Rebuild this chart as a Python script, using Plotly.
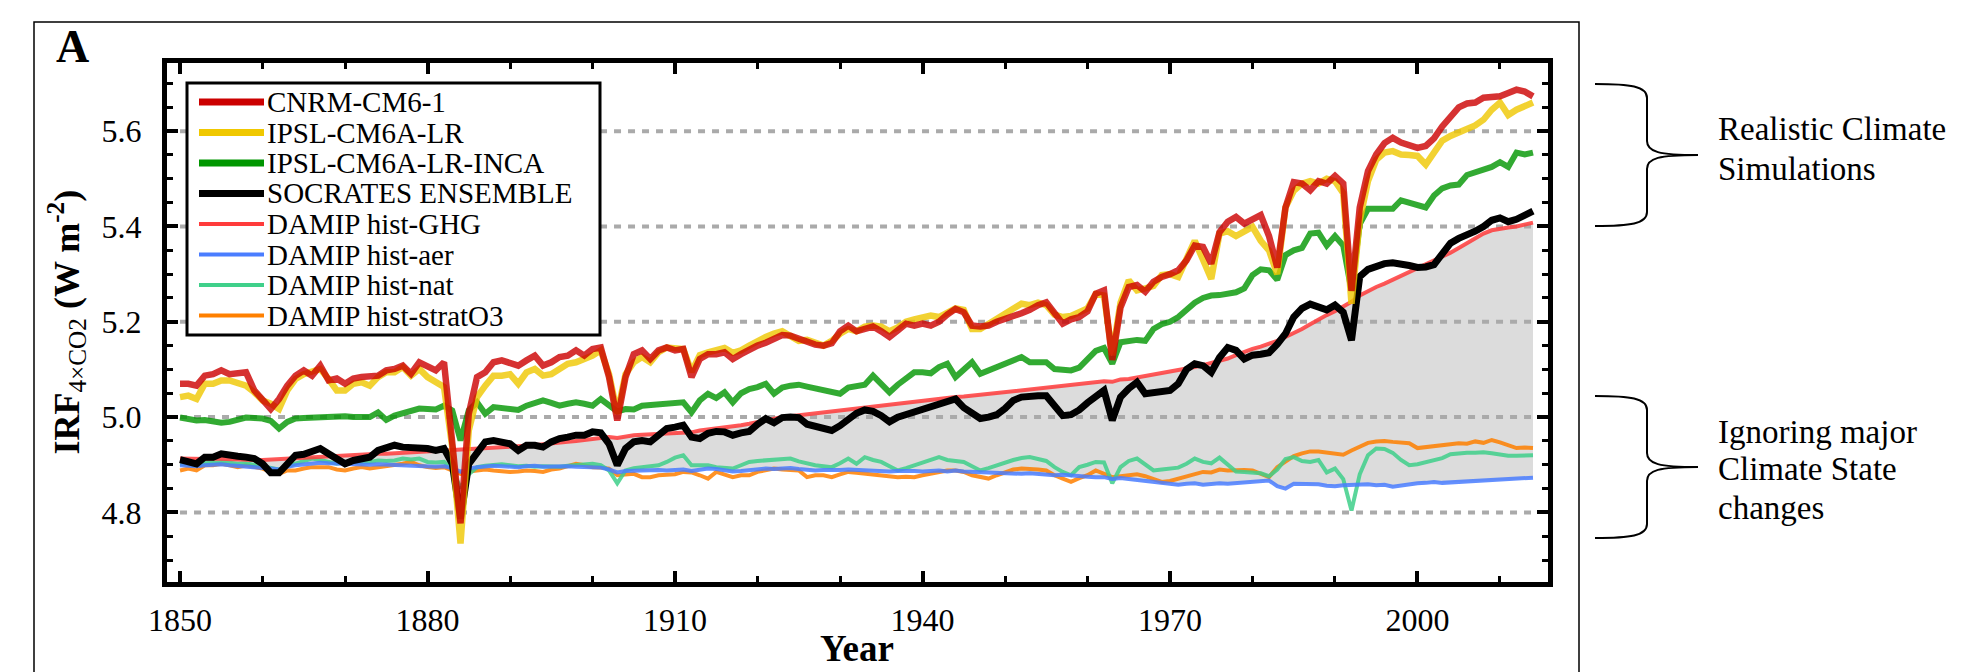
import plotly.graph_objects as go

# ---------------- data ----------------
YEARS = list(range(1850, 2015))

CNRM = [5.070, 5.070, 5.066, 5.087, 5.090, 5.098, 5.090, 5.092, 5.094, 5.056,
        5.035, 5.017, 5.038, 5.066, 5.087, 5.098, 5.087, 5.108, 5.077, 5.081,
        5.070, 5.081, 5.084, 5.084, 5.087, 5.098, 5.101, 5.108, 5.091, 5.115,
        5.108, 5.098, 5.115, 4.950, 4.777, 5.007, 5.084, 5.094, 5.115, 5.119,
        5.112, 5.108, 5.119, 5.129, 5.108, 5.115, 5.126, 5.129, 5.140, 5.129,
        5.143, 5.146, 5.084, 4.993, 5.084, 5.132, 5.140, 5.122, 5.140, 5.146,
        5.140, 5.143, 5.084, 5.122, 5.132, 5.132, 5.136, 5.122, 5.132, 5.143,
        5.150, 5.156, 5.165, 5.172, 5.171, 5.164, 5.160, 5.152, 5.150, 5.155,
        5.180, 5.192, 5.180, 5.185, 5.190, 5.180, 5.168, 5.182, 5.196, 5.192,
        5.196, 5.192, 5.200, 5.215, 5.227, 5.220, 5.192, 5.190, 5.192, 5.200,
        5.205, 5.210, 5.218, 5.225, 5.235, 5.241, 5.220, 5.196, 5.205, 5.210,
        5.222, 5.259, 5.266, 5.120, 5.230, 5.273, 5.277, 5.263, 5.284, 5.294,
        5.300, 5.308, 5.329, 5.360, 5.357, 5.322, 5.388, 5.410, 5.420, 5.406,
        5.415, 5.424, 5.380, 5.314, 5.440, 5.493, 5.490, 5.476, 5.495, 5.490,
        5.506, 5.490, 5.265, 5.440, 5.516, 5.551, 5.575, 5.586, 5.576, 5.570,
        5.565, 5.569, 5.585, 5.610, 5.628, 5.650, 5.658, 5.660, 5.670, 5.673,
        5.673, 5.680, 5.687, 5.683, 5.673]

IPSL = [5.042, 5.045, 5.038, 5.070, 5.070, 5.077, 5.077, 5.070, 5.066, 5.052,
        5.035, 5.028, 5.017, 5.056, 5.080, 5.090, 5.094, 5.101, 5.080, 5.056,
        5.056, 5.070, 5.073, 5.066, 5.084, 5.094, 5.094, 5.105, 5.087, 5.101,
        5.084, 5.073, 5.063, 4.937, 4.735, 4.972, 5.042, 5.066, 5.087, 5.087,
        5.090, 5.070, 5.094, 5.101, 5.087, 5.090, 5.101, 5.112, 5.115, 5.122,
        5.129, 5.140, 5.090, 5.007, 5.090, 5.115, 5.126, 5.115, 5.136, 5.146,
        5.146, 5.143, 5.095, 5.130, 5.136, 5.140, 5.145, 5.135, 5.140, 5.150,
        5.160, 5.168, 5.175, 5.180, 5.170, 5.160, 5.162, 5.155, 5.150, 5.160,
        5.175, 5.185, 5.180, 5.190, 5.192, 5.190, 5.180, 5.188, 5.200, 5.205,
        5.210, 5.213, 5.210, 5.220, 5.228, 5.225, 5.185, 5.185, 5.195, 5.205,
        5.215, 5.228, 5.238, 5.235, 5.240, 5.235, 5.215, 5.210, 5.212, 5.220,
        5.228, 5.258, 5.255, 5.130, 5.240, 5.287, 5.266, 5.270, 5.275, 5.298,
        5.300, 5.294, 5.330, 5.370, 5.330, 5.290, 5.385, 5.390, 5.380, 5.390,
        5.399, 5.370, 5.350, 5.300, 5.440, 5.475, 5.490, 5.495, 5.490, 5.500,
        5.495, 5.470, 5.238, 5.413, 5.495, 5.540, 5.555, 5.558, 5.551, 5.550,
        5.548, 5.530, 5.555, 5.580, 5.590, 5.598, 5.605, 5.612, 5.624, 5.645,
        5.660, 5.634, 5.645, 5.652, 5.660]

INCA = [4.999, 4.996, 4.993, 4.994, 4.992, 4.988, 4.990, 4.996, 4.999, 4.998,
        4.997, 4.992, 4.976, 4.990, 4.997, 4.998, 4.999, 5.000, 4.999, 5.000,
        5.002, 5.000, 4.999, 5.000, 5.010, 4.994, 5.003, 5.008, 5.014, 5.018,
        5.017, 5.016, 5.024, 5.014, 4.951, 5.014, 5.031, 5.007, 5.021, 5.020,
        5.017, 5.015, 5.024, 5.028, 5.035, 5.030, 5.024, 5.028, 5.031, 5.028,
        5.024, 5.038, 5.024, 5.012, 5.017, 5.016, 5.024, 5.026, 5.028, 5.030,
        5.031, 5.031, 5.010, 5.035, 5.049, 5.040, 5.052, 5.031, 5.050, 5.059,
        5.063, 5.070, 5.049, 5.062, 5.066, 5.068, 5.064, 5.060, 5.056, 5.054,
        5.049, 5.062, 5.066, 5.068, 5.087, 5.070, 5.052, 5.068, 5.080, 5.094,
        5.094, 5.092, 5.105, 5.112, 5.084, 5.100, 5.115, 5.091, 5.098, 5.104,
        5.112, 5.120, 5.126, 5.115, 5.116, 5.115, 5.101, 5.099, 5.098, 5.104,
        5.120, 5.139, 5.145, 5.112, 5.157, 5.160, 5.162, 5.160, 5.185, 5.195,
        5.200, 5.210, 5.225, 5.240, 5.250, 5.255, 5.256, 5.259, 5.262, 5.270,
        5.298, 5.310, 5.308, 5.288, 5.340, 5.350, 5.355, 5.385, 5.387, 5.360,
        5.380, 5.360, 5.265, 5.405, 5.437, 5.437, 5.437, 5.437, 5.455, 5.450,
        5.444, 5.440, 5.465, 5.480, 5.486, 5.488, 5.508, 5.514, 5.518, 5.525,
        5.535, 5.525, 5.555, 5.551, 5.555]

SOCRATES = [4.911, 4.906, 4.902, 4.916, 4.916, 4.923, 4.922, 4.918, 4.916, 4.913,
            4.902, 4.883, 4.883, 4.902, 4.920, 4.922, 4.930, 4.934, 4.923, 4.913,
            4.902, 4.909, 4.913, 4.916, 4.930, 4.934, 4.941, 4.937, 4.936, 4.937,
            4.934, 4.930, 4.934, 4.902, 4.787, 4.902, 4.927, 4.948, 4.951, 4.948,
            4.944, 4.930, 4.941, 4.941, 4.937, 4.948, 4.955, 4.958, 4.962, 4.962,
            4.969, 4.967, 4.944, 4.899, 4.934, 4.948, 4.951, 4.948, 4.962, 4.976,
            4.979, 4.983, 4.958, 4.955, 4.966, 4.970, 4.969, 4.962, 4.967, 4.970,
            4.985, 4.997, 4.988, 4.999, 5.000, 4.999, 4.985, 4.980, 4.976, 4.972,
            4.982, 4.995, 5.008, 5.015, 5.012, 5.003, 4.990, 5.000, 5.005, 5.010,
            5.015, 5.021, 5.025, 5.030, 5.038, 5.020, 5.008, 4.997, 5.000, 5.005,
            5.018, 5.035, 5.042, 5.045, 5.045, 5.045, 5.024, 5.003, 5.005, 5.015,
            5.030, 5.045, 5.056, 4.993, 5.042, 5.060, 5.073, 5.049, 5.052, 5.055,
            5.056, 5.070, 5.100, 5.112, 5.108, 5.094, 5.125, 5.146, 5.140, 5.122,
            5.130, 5.132, 5.135, 5.153, 5.175, 5.210, 5.228, 5.237, 5.232, 5.225,
            5.235, 5.220, 5.161, 5.295, 5.310, 5.317, 5.322, 5.324, 5.322, 5.318,
            5.314, 5.315, 5.320, 5.345, 5.365, 5.375, 5.382, 5.390, 5.400, 5.413,
            5.418, 5.410, 5.415, 5.425, 5.432]

HIST_GHG = [4.913, 4.912, 4.911, 4.912, 4.913, 4.912, 4.911, 4.911, 4.910, 4.910,
            4.910, 4.911, 4.912, 4.913, 4.914, 4.915, 4.917, 4.918, 4.918, 4.919,
            4.920, 4.921, 4.921, 4.922, 4.923, 4.923, 4.924, 4.924, 4.925, 4.925,
            4.926, 4.927, 4.928, 4.929, 4.930, 4.931, 4.932, 4.934, 4.935, 4.936,
            4.937, 4.938, 4.940, 4.941, 4.943, 4.944, 4.946, 4.948, 4.950, 4.952,
            4.955, 4.957, 4.958, 4.956, 4.960, 4.962, 4.963, 4.964, 4.966, 4.967,
            4.968, 4.969, 4.968, 4.972, 4.974, 4.975, 4.978, 4.980, 4.983, 4.986,
            4.990, 4.993, 4.996, 5.000, 5.002, 5.004, 5.006, 5.008, 5.010, 5.012,
            5.014, 5.016, 5.019, 5.022, 5.024, 5.026, 5.027, 5.028, 5.030, 5.032,
            5.034, 5.036, 5.038, 5.040, 5.042, 5.043, 5.045, 5.047, 5.049, 5.051,
            5.053, 5.055, 5.057, 5.059, 5.061, 5.063, 5.065, 5.066, 5.067, 5.069,
            5.071, 5.073, 5.075, 5.074, 5.079, 5.080, 5.083, 5.086, 5.088, 5.091,
            5.094, 5.097, 5.101, 5.105, 5.109, 5.113, 5.117, 5.123, 5.130, 5.137,
            5.143, 5.148, 5.153, 5.160, 5.168, 5.176, 5.185, 5.195, 5.205, 5.214,
            5.222, 5.232, 5.242, 5.255, 5.265, 5.273, 5.280, 5.288, 5.297, 5.305,
            5.312, 5.320, 5.330, 5.337, 5.345, 5.355, 5.365, 5.375, 5.385, 5.392,
            5.396, 5.398, 5.400, 5.404, 5.408]

HIST_AER = [4.899, 4.898, 4.897, 4.899, 4.900, 4.901, 4.899, 4.898, 4.897, 4.896,
            4.894, 4.892, 4.890, 4.896, 4.899, 4.901, 4.902, 4.904, 4.903, 4.902,
            4.903, 4.902, 4.901, 4.900, 4.901, 4.900, 4.899, 4.900, 4.899, 4.898,
            4.897, 4.896, 4.897, 4.893, 4.885, 4.892, 4.895, 4.897, 4.898, 4.897,
            4.896, 4.895, 4.897, 4.898, 4.896, 4.897, 4.898, 4.897, 4.896, 4.895,
            4.895, 4.894, 4.890, 4.884, 4.887, 4.888, 4.887, 4.888, 4.889, 4.888,
            4.888, 4.890, 4.887, 4.890, 4.892, 4.891, 4.889, 4.886, 4.887, 4.889,
            4.891, 4.892, 4.891, 4.892, 4.893, 4.891, 4.889, 4.888, 4.889, 4.888,
            4.889, 4.890, 4.889, 4.887, 4.888, 4.887, 4.886, 4.887, 4.888, 4.887,
            4.886, 4.887, 4.888, 4.886, 4.888, 4.886, 4.885, 4.884, 4.885, 4.884,
            4.883, 4.882, 4.881, 4.882, 4.880, 4.879, 4.878, 4.879, 4.877, 4.876,
            4.875, 4.874, 4.874, 4.870, 4.872, 4.870, 4.868, 4.867, 4.866, 4.864,
            4.861, 4.858, 4.860, 4.861, 4.858, 4.860, 4.861, 4.860, 4.861, 4.863,
            4.864, 4.866, 4.867, 4.855, 4.850, 4.860, 4.860, 4.858, 4.859, 4.856,
            4.855, 4.857, 4.858, 4.858, 4.859, 4.857, 4.858, 4.854, 4.857, 4.860,
            4.861, 4.862, 4.864, 4.862, 4.863, 4.864, 4.864, 4.865, 4.866, 4.867,
            4.868, 4.868, 4.869, 4.870, 4.873]

HIST_NAT = [4.902, 4.900, 4.898, 4.903, 4.905, 4.906, 4.904, 4.902, 4.903, 4.900,
            4.896, 4.892, 4.890, 4.897, 4.902, 4.908, 4.913, 4.910, 4.905, 4.902,
            4.906, 4.905, 4.904, 4.906, 4.909, 4.908, 4.909, 4.913, 4.911, 4.913,
            4.906, 4.905, 4.906, 4.890, 4.851, 4.880, 4.895, 4.898, 4.900, 4.901,
            4.899, 4.897, 4.898, 4.896, 4.897, 4.896, 4.896, 4.898, 4.899, 4.902,
            4.902, 4.899, 4.888, 4.861, 4.888, 4.893, 4.895, 4.897, 4.899, 4.906,
            4.915, 4.920, 4.899, 4.899, 4.899, 4.895, 4.893, 4.892, 4.899, 4.906,
            4.908, 4.909, 4.909, 4.911, 4.913, 4.907, 4.902, 4.899, 4.897, 4.895,
            4.903, 4.913, 4.902, 4.916, 4.910, 4.906, 4.897, 4.888, 4.893, 4.899,
            4.906, 4.912, 4.916, 4.910, 4.908, 4.906, 4.897, 4.888, 4.893, 4.899,
            4.904, 4.910, 4.914, 4.916, 4.912, 4.908, 4.895, 4.885, 4.878, 4.895,
            4.900, 4.906, 4.905, 4.861, 4.895, 4.908, 4.913, 4.900, 4.888, 4.890,
            4.892, 4.894, 4.902, 4.913, 4.906, 4.903, 4.915, 4.900, 4.886, 4.885,
            4.884, 4.882, 4.876, 4.890, 4.912, 4.916, 4.908, 4.906, 4.910, 4.884,
            4.892, 4.870, 4.804, 4.880, 4.920, 4.934, 4.933, 4.925, 4.910, 4.899,
            4.901, 4.906, 4.910, 4.914, 4.922, 4.924, 4.925, 4.925, 4.926, 4.924,
            4.921, 4.919, 4.919, 4.919, 4.920]

HIST_STRATO3 = [4.888, 4.892, 4.888, 4.899, 4.899, 4.902, 4.899, 4.895, 4.899, 4.895,
                4.892, 4.885, 4.881, 4.888, 4.888, 4.892, 4.895, 4.895, 4.895, 4.890,
                4.888, 4.892, 4.895, 4.892, 4.894, 4.897, 4.899, 4.902, 4.906, 4.899,
                4.895, 4.893, 4.895, 4.888, 4.881, 4.886, 4.888, 4.890, 4.888, 4.886,
                4.885, 4.886, 4.888, 4.887, 4.885, 4.890, 4.892, 4.897, 4.902, 4.899,
                4.895, 4.894, 4.892, 4.878, 4.880, 4.881, 4.874, 4.874, 4.878, 4.878,
                4.880, 4.885, 4.884, 4.878, 4.871, 4.885, 4.880, 4.874, 4.878, 4.878,
                4.885, 4.888, 4.892, 4.890, 4.889, 4.888, 4.874, 4.878, 4.878, 4.874,
                4.880, 4.885, 4.883, 4.881, 4.880, 4.878, 4.874, 4.874, 4.875, 4.874,
                4.878, 4.881, 4.885, 4.888, 4.888, 4.885, 4.878, 4.874, 4.871, 4.878,
                4.885, 4.890, 4.892, 4.892, 4.890, 4.888, 4.878, 4.871, 4.864, 4.872,
                4.878, 4.888, 4.882, 4.874, 4.876, 4.878, 4.880, 4.876, 4.870, 4.864,
                4.866, 4.871, 4.876, 4.881, 4.885, 4.884, 4.890, 4.888, 4.889, 4.889,
                4.888, 4.882, 4.874, 4.895, 4.907, 4.918, 4.924, 4.928, 4.928, 4.926,
                4.924, 4.921, 4.930, 4.938, 4.946, 4.949, 4.950, 4.948, 4.946, 4.945,
                4.935, 4.937, 4.939, 4.940, 4.942, 4.945, 4.944, 4.949, 4.946, 4.952,
                4.947, 4.942, 4.935, 4.936, 4.935]

SERIES_NAMES = ["CNRM-CM6-1", "IPSL-CM6A-LR", "IPSL-CM6A-LR-INCA", "SOCRATES ENSEMBLE",
                "DAMIP hist-GHG", "DAMIP hist-aer", "DAMIP hist-nat", "DAMIP hist-stratO3"]
SERIES_DATA = [CNRM, IPSL, INCA, SOCRATES, HIST_GHG, HIST_AER, HIST_NAT, HIST_STRATO3]
GRID_LEVELS = [4.8, 5.0, 5.2, 5.4, 5.6]
GRID_SPAN = [1850, 2014]

# ---------------- styling ----------------
COLORS = ["#cc0000", "#f0c800", "#009600", "#000000",
          "#ff3b3b", "#4a7dff", "#3fd08a", "#ff8000"]
WIDTHS = [6.5, 6.5, 6.0, 7.0, 4.0, 4.0, 4.0, 4.0]
OPAC = [0.8, 0.8, 0.8, 1.0, 0.85, 0.85, 0.85, 0.85]
LEG_WIDTHS = [7, 7, 7, 7, 4, 4, 4, 4]
DRAW_ORDER = [7, 6, 5, 4, 3, 2, 1, 0]

SERIF = "Liberation Serif, Times New Roman, serif"
W, H = 1982, 672
PL, PR, PT, PB = 167, 1548, 63, 582  # plot area box in pixels


def pxx(x):
    return (x - PL) / (PR - PL)


def pxy(y):
    return (PB - y) / (PB - PT)


fig = go.Figure()

# grey envelope between hist-aer and hist-GHG
fig.add_trace(go.Scatter(x=YEARS, y=HIST_AER, mode="lines", line=dict(width=0),
                         showlegend=False, hoverinfo="skip"))
fig.add_trace(go.Scatter(x=YEARS, y=HIST_GHG, mode="lines", line=dict(width=0),
                         fill="tonexty", fillcolor="#dcdcdc",
                         showlegend=False, hoverinfo="skip"))

# dotted reference levels
for lv in GRID_LEVELS:
    fig.add_trace(go.Scatter(x=GRID_SPAN, y=[lv, lv], mode="lines",
                             line=dict(color="#aaaaaa", width=4, dash="7px,7px"),
                             showlegend=False, hoverinfo="skip"))

for i in DRAW_ORDER:
    fig.add_trace(go.Scatter(x=YEARS, y=SERIES_DATA[i], mode="lines", name=SERIES_NAMES[i],
                             line=dict(color=COLORS[i], width=WIDTHS[i]),
                             opacity=OPAC[i], showlegend=False))

shapes = []
annotations = []

# outer panel frame
shapes.append(dict(type="rect", xref="paper", yref="paper",
                   x0=pxx(34), x1=pxx(1579), y0=pxy(22), y1=pxy(760),
                   line=dict(color="black", width=1.5), layer="above"))

# legend box
LEG_L, LEG_R, LEG_T, LEG_B = 187, 600, 83, 335
shapes.append(dict(type="rect", xref="paper", yref="paper",
                   x0=pxx(LEG_L), x1=pxx(LEG_R), y0=pxy(LEG_B), y1=pxy(LEG_T),
                   fillcolor="white", line=dict(color="black", width=3), layer="above"))
for k, name in enumerate(SERIES_NAMES):
    yc = 102 + 30.5 * k
    shapes.append(dict(type="line", xref="paper", yref="paper",
                       x0=pxx(199), x1=pxx(264), y0=pxy(yc), y1=pxy(yc),
                       line=dict(color=COLORS[k], width=LEG_WIDTHS[k]), layer="above"))
    annotations.append(dict(xref="paper", yref="paper", x=pxx(265), y=pxy(yc),
                            xanchor="left", yanchor="middle", text=name, showarrow=False,
                            font=dict(family=SERIF, size=29, color="black")))


def brace(top, bottom, x0=1595, xs=1647, xt=1698):
    mid = (top + bottom) / 2
    pts = (f"M {pxx(x0)},{pxy(top)} "
           f"C {pxx(x0 + 35)},{pxy(top)} {pxx(xs)},{pxy(top + 2)} {pxx(xs)},{pxy(top + 14)} "
           f"L {pxx(xs)},{pxy(mid - 14)} "
           f"C {pxx(xs)},{pxy(mid - 3)} {pxx(xs + 12)},{pxy(mid)} {pxx(xt)},{pxy(mid)} "
           f"C {pxx(xs + 12)},{pxy(mid)} {pxx(xs)},{pxy(mid + 3)} {pxx(xs)},{pxy(mid + 14)} "
           f"L {pxx(xs)},{pxy(bottom - 14)} "
           f"C {pxx(xs)},{pxy(bottom - 2)} {pxx(x0 + 35)},{pxy(bottom)} {pxx(x0)},{pxy(bottom)}")
    return dict(type="path", xref="paper", yref="paper", path=pts,
                line=dict(color="black", width=2), layer="above")


shapes.append(brace(84, 226))
shapes.append(brace(396, 538))

for txt, yc in [("Realistic Climate", 129), ("Simulations", 169),
                ("Ignoring major", 432), ("Climate State", 469), ("changes", 508)]:
    annotations.append(dict(xref="paper", yref="paper", x=pxx(1716), y=pxy(yc),
                            xanchor="left", yanchor="middle", text=txt, showarrow=False,
                            font=dict(family=SERIF, size=33, color="black")))

# panel letter
annotations.append(dict(xref="paper", yref="paper", x=pxx(72), y=pxy(47),
                        xanchor="center", yanchor="middle", text="<b>A</b>", showarrow=False,
                        font=dict(family=SERIF, size=46, color="black")))

# axis titles
annotations.append(dict(xref="paper", yref="paper", x=pxx(857), y=pxy(671),
                        xanchor="center", yanchor="bottom", text="<b>Year</b>", showarrow=False,
                        font=dict(family=SERIF, size=37, color="black")))
annotations.append(dict(xref="paper", yref="paper", x=pxx(66), y=0.5,
                        xanchor="center", yanchor="middle", textangle=-90,
                        text="<b>IRF</b><sub>4×CO2</sub><b> (W m<sup>-2</sup>)</b>",
                        showarrow=False,
                        font=dict(family=SERIF, size=36, color="black")))

axis_common = dict(showline=True, linewidth=5, linecolor="black", mirror="ticks",
                   ticks="inside", tickwidth=4, tickcolor="black", ticklen=11,
                   showgrid=False, zeroline=False,
                   tickfont=dict(family=SERIF, size=32, color="black"))

fig.update_layout(
    width=W, height=H,
    margin=dict(l=PL, r=W - PR, t=PT, b=H - PB, pad=0),
    paper_bgcolor="white", plot_bgcolor="white",
    showlegend=False,
    xaxis=dict(range=[1848.42, 2015.82], tickmode="linear", tick0=1850, dtick=30,
               ticklabelstandoff=6,
               minor=dict(ticks="inside", ticklen=6, tickwidth=3, tickcolor="black",
                          tick0=1850, dtick=10, showgrid=False),
               **axis_common),
    yaxis=dict(range=[4.654, 5.743], tickmode="linear", tick0=4.8, dtick=0.2,
               tickformat=".1f", ticklabelstandoff=14,
               minor=dict(ticks="inside", ticklen=6, tickwidth=3, tickcolor="black",
                          tick0=4.8, dtick=0.05, showgrid=False),
               **axis_common),
    shapes=shapes,
    annotations=annotations,
)

fig.write_html("out.html")
